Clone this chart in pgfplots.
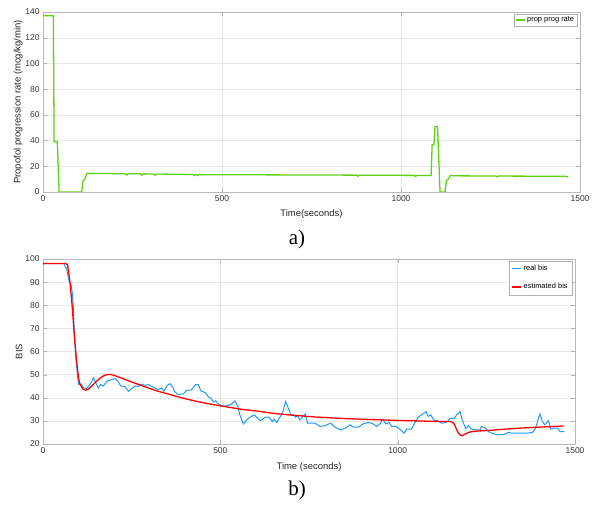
\documentclass[border=0pt]{standalone}
\usepackage{pgfplots}
\pgfplotsset{compat=1.18}
\usepackage{fontspec}
\setmainfont{Liberation Sans}
\newfontfamily\seriffont{Liberation Serif}
\definecolor{pgreen}{RGB}{95,210,20}
\definecolor{pblue}{RGB}{30,155,245}
\definecolor{pred}{RGB}{255,0,0}
\begin{document}
\begin{tikzpicture}[x=1bp,y=1bp]
\useasboundingbox (0,0) rectangle (594,505);
\pgfplotsset{
  mystyle/.style={
    scale only axis,
    axis line style={gray!55},
    tick style={gray!60},
    major tick length=4bp,
    tick align=inside,
    grid=major,
    major grid style={gray!18},
    tick label style={font=\fontsize{8.5}{10}\selectfont, text=black!80},
    label style={font=\fontsize{9.5}{11}\selectfont, text=black!85},
    /pgf/number format/assume math mode=true,
    /pgf/number format/1000 sep={},
    xmin=0, xmax=1500,
    xtick={0,500,1000,1500},
    legend cell align=left,
    legend style={font=\fontsize{7.5}{9}\selectfont, draw=gray!60, inner sep=1pt,
      at={(0.995,0.99)}, anchor=north east},
    legend image code/.code={\draw[##1] (0bp,0bp) -- (9bp,0bp);},
  }
}
\begin{axis}[mystyle,
  at={(43bp,313bp)}, anchor=south west,
  width=537bp, height=180bp,
  ymin=0, ymax=140, ytick={0,20,...,140},
  xlabel={Time(seconds)},
  ylabel={Propofol progression rate (mcg/kg/min)},
  xlabel style={yshift=-1bp},
  ylabel style={yshift=-4bp},
]
\addplot[pgreen, line width=1.3pt] coordinates {
(0,137) (29,137) (31,39) (40,39) (45,0) (108,0) (112,9) (117,10) (123,14.5)
(230,14.2) (234,13.2) (238,14.2) (272,14.1) (276,13.1) (280,14.1) (310,14) (313,13) (317,14)
(420,13.6) (423,12.8) (428,13.6) (432,12.8) (436,13.5)
(876,13.1) (880,12.3) (884,13.1) (1037,12.9) (1040,12.1) (1044,12.8)
(1084,12.8) (1087,37) (1092,37) (1095,51) (1102,51) (1109,0) (1123,0)
(1127,9) (1132,10) (1137,12.6) (1265,12.4) (1268,11.8) (1272,12.4) (1460,12.2) (1467,11.6)
};
\addlegendentry{prop prog rate}
\end{axis}
\node[font=\seriffont\fontsize{21}{24}\selectfont] at (297,266) {a)};
\begin{axis}[mystyle,
  at={(43bp,61bp)}, anchor=south west,
  width=532bp, height=185bp,
  ymin=20, ymax=100, ytick={20,30,...,100},
  xlabel={Time (seconds)},
  ylabel={BIS},
  xlabel style={yshift=-2bp},
  ylabel style={yshift=-4bp},
  legend style={row sep=7bp, inner sep=2.5bp},
]
\addplot[pblue, line width=1pt] coordinates {
(0,98) (59,98) (67,95.4) (74,90.3) (79,89) (83,85) (85.5,78.7) (88.3,68.6) (92,58.4)
(97,49.7) (100.6,45.7) (109,45.7) (115.6,44.2) (123,44) (131,45.4) (137,46.8) (142,48.7)
(147,47.1) (156,44.2) (162.6,45.7) (170,45.1) (177.6,46.5) (184,47.5) (193.6,47.8) (203,48.3)
(212,47.1) (219,45.1) (231,44.9) (240.6,42.8) (247,43.6) (259.4,45.1) (269,44.9) (278,45.7)
(287.6,45.4) (297,45.7) (311,44.6) (325,43.5) (334.6,44.2) (341,42.8) (350.6,45.4) (358,46.1)
(365.6,44.6) (372,42.5) (380,41.4) (395.6,41.6) (405,43.3) (417,43.3) (424,44.4) (430,45.7)
(438,45.7) (445,43) (458.6,42.1) (466,40.4) (473.6,39.7) (480,38.3) (487,38.7) (494,37.3)
(508,36.4) (522,36.7) (532,37.3) (541.3,38.7) (549,36.4) (555,32.6) (565,28.7) (574,30.4)
(584,31.6) (596,32.6) (602,31.6) (612,30.1) (618,30.7) (628,31.6) (637,31.6) (646.5,29.7)
(651,30.7) (659,29.3) (668,31.6) (675,33.3) (684,38.3) (692,35.4) (699,32.6) (706,32.6)
(712,31.6) (718,32.1) (724.5,30.4) (731,31.6) (739,33) (746,29) (767,29) (781,27.6)
(795,27.9) (811,29) (823,27.3) (839,26.1) (854,26.9) (865.5,28.3) (875,27.3) (889,27.3)
(903,28.7) (917,29.3) (931,28.7) (941,27.6) (950,28.7) (958,30.7) (967,28.7) (976,29.3)
(983,27.6) (995,27.6) (1006,26.4) (1018,24.7) (1025,26.4) (1039,26.4) (1049,29.3) (1058,31.6)
(1067.5,32.6) (1080,34) (1086,31.9) (1093,32.6) (1102,30.4) (1112,30.1) (1124,29) (1136,29.3)
(1143,30.1) (1147,31.1) (1160,31.1) (1166,32.6) (1176,34) (1182,30.4) (1192,26.6) (1199,27.9)
(1208.5,26.4) (1223,26.1) (1232,26.1) (1237,27.6) (1246,27.1) (1255.5,25.4) (1270,24.4) (1284,24)
(1298,24) (1312,25) (1321,24.7) (1340,24.7) (1364,24.7) (1380,25) (1389,26.9) (1395,30.1)
(1401,33) (1408,29.7) (1415,28.3) (1425,30.1) (1432,26.4) (1439,26.9) (1451,26.9) (1458,25.4)
(1470,25.4)
};
\addlegendentry{real bis}
\addplot[pred, line width=1.3pt, smooth, tension=0.3] coordinates {
(0,98) (65,98) (70,96.5) (76,90) (82.7,78.7) (88.3,67) (95,55.5) (102.4,46.8) (112,43.9)
(121,43.3) (130,44) (140,45.5) (150,47) (160,48.4) (170,49.4) (180,50) (189,50.1) (200,49.7)
(225,48.3) (250,46.8) (283,45) (320,43) (360,41.3) (400,39.6) (450,37.9) (500,36.5)
(560,35) (600,34.3) (654,33.2) (700,32.5) (767,31.7) (850,31) (941,30.5) (1000,30.2)
(1050,30) (1100,29.8) (1140,29.7) (1152,29.6) (1160,28.5) (1168,25.6) (1175,24) (1182,23.6)
(1190,24.3) (1200,25) (1215,25.5) (1260,25.9) (1300,26.4) (1350,26.9) (1400,27.3) (1468,27.8)
};
\addlegendentry{estimated bis}
\end{axis}
\node[font=\seriffont\fontsize{21}{24}\selectfont] at (297,15) {b)};
\end{tikzpicture}
\end{document}
